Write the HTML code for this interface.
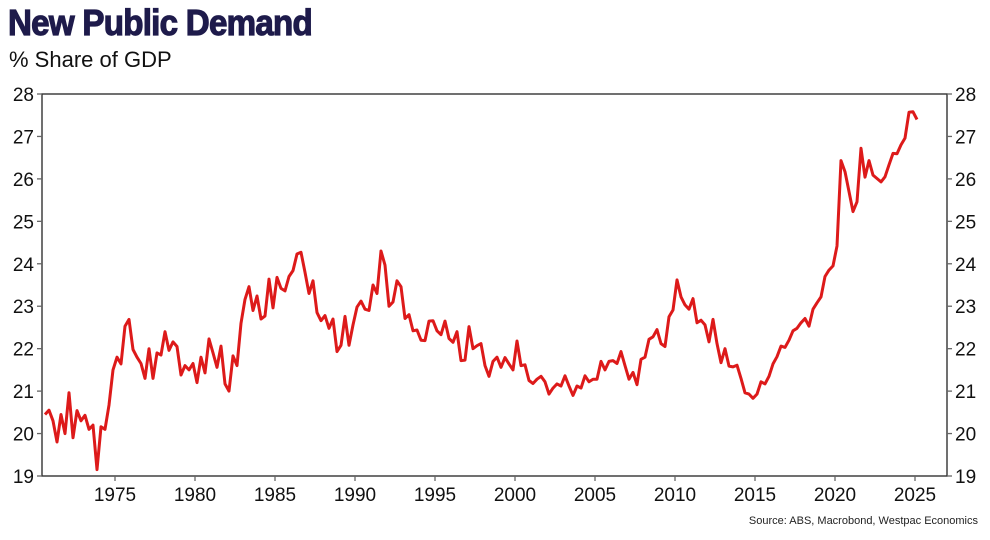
<!DOCTYPE html>
<html><head><meta charset="utf-8"><style>
body{margin:0;background:#fff;width:990px;height:540px;overflow:hidden;font-family:"Liberation Sans",sans-serif}
#title{position:absolute;left:8px;top:2px;font-family:"Liberation Sans Narrow","Liberation Sans",sans-serif;font-weight:bold;font-size:36px;color:#1e1b4b;letter-spacing:-0.8px;-webkit-text-stroke:1.2px #1e1b4b;transform:scaleX(0.92);transform-origin:left}
#sub{position:absolute;left:9px;top:47px;font-size:22px;color:#111}
#src{position:absolute;right:12px;top:515px;font-size:11px;color:#222}
svg{position:absolute;left:0;top:0}
</style></head><body>
<div id="title">New Public Demand</div>
<div id="sub">% Share of GDP</div>
<div id="src">Source: ABS, Macrobond, Westpac Economics</div>
<svg id="chart" width="990" height="540"></svg>
<script>
const startYear = 1970.625;
const yTicks = [19,20,21,22,23,24,25,26,27,28];
const xTicks = [1975,1980,1985,1990,1995,2000,2005,2010,2015,2020,2025];
const values = [
20.45,20.55,20.3,19.8,20.45,20.0,20.96,19.9,20.54,20.3,20.43,20.1,20.2,19.15,20.16,20.1,20.67,21.5,21.8,21.64,
22.53,22.69,21.98,21.8,21.65,21.3,22.0,21.3,21.9,21.85,22.4,21.96,22.16,22.05,21.38,21.6,21.5,21.65,21.2,21.8,
21.43,22.23,21.9,21.56,22.06,21.17,21.0,21.83,21.6,22.6,23.16,23.46,22.9,23.24,22.7,22.77,23.64,22.96,23.68,23.42,
23.36,23.7,23.84,24.23,24.27,23.8,23.3,23.6,22.85,22.66,22.78,22.48,22.7,21.93,22.08,22.76,22.08,22.56,22.98,
23.12,22.93,22.9,23.5,23.3,24.3,23.97,23.0,23.1,23.6,23.46,22.71,22.8,22.42,22.44,22.2,22.19,22.65,22.66,22.42,
22.33,22.65,22.24,22.15,22.4,21.72,21.73,22.52,22.0,22.07,22.12,21.6,21.35,21.7,21.8,21.56,21.79,21.64,21.5,22.18,
21.6,21.62,21.25,21.18,21.28,21.35,21.22,20.93,21.07,21.17,21.12,21.36,21.12,20.9,21.12,21.07,21.36,21.22,21.28,21.28,
21.7,21.5,21.7,21.72,21.65,21.93,21.6,21.28,21.44,21.15,21.75,21.8,22.22,22.28,22.45,22.12,22.05,22.75,
22.91,23.62,23.22,23.03,22.93,23.18,22.61,22.67,22.56,22.16,22.69,22.12,21.67,22.0,21.59,21.57,21.61,21.3,20.96,20.93,
20.83,20.93,21.22,21.17,21.35,21.64,21.81,22.06,22.03,22.2,22.42,22.48,22.61,22.71,22.53,22.93,23.08,23.22,23.7,23.85,
23.95,24.42,26.43,26.17,25.7,25.23,25.46,26.72,26.04,26.43,26.09,26.01,25.93,26.05,26.33,26.6,26.59,26.8,26.96,27.57,27.58,27.4
];
const L=42,R=947,T=94,B=476;
const xS=yr=>115+(yr-1975)*16;
const yS=v=>T+(28-v)*(B-T)/9;
const svg=document.getElementById('chart');
const NS='http://www.w3.org/2000/svg';
function mk(tag,attrs){const e=document.createElementNS(NS,tag);for(const k in attrs)e.setAttribute(k,attrs[k]);svg.appendChild(e);return e;}
const frame=mk('rect',{x:L,y:T,width:R-L,height:B-T,fill:'none',stroke:'#333','stroke-width':1.4});


yTicks.forEach(v=>{
  const y=yS(v);
  const t1=mk('line',{x1:L-5,x2:L,y1:y,y2:y,stroke:'#666','stroke-width':1.3});
  
  
  const t2=mk('line',{x1:R,x2:R+5,y1:y,y2:y,stroke:'#666','stroke-width':1.3});
  
  
  const a=mk('text',{x:L-8,y:y+7,'text-anchor':'end','font-size':19,fill:'#111','font-family':'Liberation Sans, sans-serif'});
  a.textContent=v;
  
  
  const b=mk('text',{x:R+8,y:y+7,'font-size':19,fill:'#111','font-family':'Liberation Sans, sans-serif'});
  b.textContent=v;
  
  
});
xTicks.forEach(yr=>{
  const x=xS(yr);
  const t=mk('line',{x1:x,x2:x,y1:B,y2:B+5,stroke:'#666','stroke-width':1.3});
  
  
  const l=mk('text',{x:x,y:B+25,'text-anchor':'middle','font-size':19,fill:'#111','font-family':'Liberation Sans, sans-serif'});
  l.textContent=yr;
  
  
});
const pts=values.map((v,i)=>xS(startYear+i*0.25).toFixed(1)+','+yS(v).toFixed(1)).join(' ');
const line=mk('polyline',{points:pts,fill:'none',stroke:'#dd1a1a','stroke-width':3,'stroke-linejoin':'round'});


</script>
</body></html>
